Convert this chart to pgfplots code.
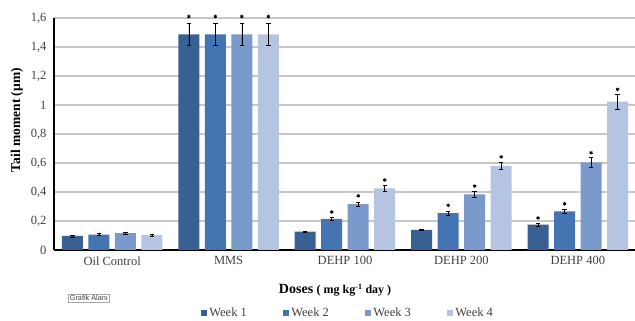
\documentclass[border=0pt]{standalone}
\usepackage{pgfplots}
\pgfplotsset{compat=1.18}
\usepackage{fontspec}
\setmainfont{Liberation Serif}
\newfontfamily\lsans{Liberation Sans}
\definecolor{wA}{RGB}{56,96,147}
\definecolor{wB}{RGB}{69,116,179}
\definecolor{wC}{RGB}{122,154,204}
\definecolor{wD}{RGB}{181,196,224}
\definecolor{gridc}{RGB}{200,200,200}
\definecolor{txt}{RGB}{64,64,64}
\pgfplotsset{common/.style={
  scale only axis, width=582pt, height=232pt,
  xmin=-0.5, xmax=4.5, ymin=0, ymax=1.6, clip=false}}
\begin{document}
\begin{tikzpicture}
\useasboundingbox (-54pt,-71pt) rectangle (581pt,250pt);
\begin{axis}[
  common,
  ybar=5.5pt, bar width=21pt,
  axis x line=bottom, axis y line=left,
  axis line style={-, black, line width=1.2pt},
  xtick={0,1,2,3,4},
  xticklabels={Oil Control, MMS, DEHP 100, DEHP 200, DEHP 400},
  ytick={0,0.2,0.4,0.6,0.8,1,1.2,1.4,1.6},
  /pgf/number format/.cd, use comma, fixed, precision=1, assume math mode=true,
  /pgfplots/.cd,
  major tick length=0pt,
  ymajorgrids, grid style={gridc, line width=1.2pt},
  ticklabel style={font=\fontsize{12.5}{14}\selectfont, text=txt},
  yticklabel style={xshift=-4pt},
  xticklabel style={yshift=-3pt},
  xlabel={\fontsize{14}{16}\selectfont\bfseries Doses {\fontsize{12}{14}\selectfont( mg kg\textsuperscript{-1} day )}},
  xlabel style={at={(axis description cs:0.483,-0.172)}, anchor=center},
  ylabel={\fontsize{13.5}{16}\selectfont\bfseries Tail moment (μm)},
  ylabel style={at={(axis description cs:-0.064,0.56)}, anchor=center, rotate=0},
  legend columns=4,
  legend style={draw=none, at={(axis description cs:0.505,-0.272)}, anchor=center,
    font=\fontsize{12.5}{14}\selectfont, text=txt,
    /tikz/every even column/.append style={column sep=34pt}},
  legend image code/.code={\fill[#1] (0pt,-3pt) rectangle (6.5pt,3.5pt);},
  error bars/error bar style={black, line width=0.6pt},
  error bars/error mark options={rotate=90, mark size=2.2pt, black, line width=0.6pt},
]
\addplot[fill=wA, draw=none,
  error bars/.cd, y dir=both, y explicit]
  coordinates {(0,0.097) +- (0,0.006) (1,1.487) +- (0,0.076) (2,0.126) +- (0,0.005) (3,0.138) +- (0,0.005) (4,0.175) +- (0,0.01)};
\addplot[fill=wB, draw=none,
  error bars/.cd, y dir=both, y explicit]
  coordinates {(0,0.106) +- (0,0.006) (1,1.487) +- (0,0.076) (2,0.214) +- (0,0.01) (3,0.255) +- (0,0.015) (4,0.267) +- (0,0.012)};
\addplot[fill=wC, draw=none,
  error bars/.cd, y dir=both, y explicit]
  coordinates {(0,0.117) +- (0,0.006) (1,1.487) +- (0,0.076) (2,0.317) +- (0,0.015) (3,0.384) +- (0,0.02) (4,0.605) +- (0,0.035)};
\addplot[fill=wD, draw=none,
  error bars/.cd, y dir=both, y explicit]
  coordinates {(0,0.103) +- (0,0.006) (1,1.487) +- (0,0.076) (2,0.425) +- (0,0.02) (3,0.581) +- (0,0.025) (4,1.023) +- (0,0.05)};
\legend{Week 1, Week 2, Week 3, Week 4}
\node[draw=gray!70, fill=white, inner sep=1.6pt, font=\lsans\fontsize{7.3}{8}\selectfont, text=black!75]
  at (rel axis cs:0.06,-0.207) {Grafik Alanı};
\end{axis}
\begin{axis}[common, hide axis]
% significance stars
\addplot[only marks, mark=asterisk, mark size=1.8pt, line width=0.8pt, black, xshift=-39.75pt]
  coordinates {(1,1.61) (4,0.221)};
\addplot[only marks, mark=asterisk, mark size=1.8pt, line width=0.8pt, black, xshift=-13.25pt]
  coordinates {(1,1.61) (2,0.262) (3,0.308) (4,0.319)};
\addplot[only marks, mark=asterisk, mark size=1.8pt, line width=0.8pt, black, xshift=13.25pt]
  coordinates {(1,1.61) (2,0.374) (3,0.441) (4,0.671)};
\addplot[only marks, mark=asterisk, mark size=1.8pt, line width=0.8pt, black, xshift=39.75pt]
  coordinates {(1,1.61) (2,0.483) (3,0.643) (4,1.108)};
\end{axis}
\end{tikzpicture}
\end{document}
